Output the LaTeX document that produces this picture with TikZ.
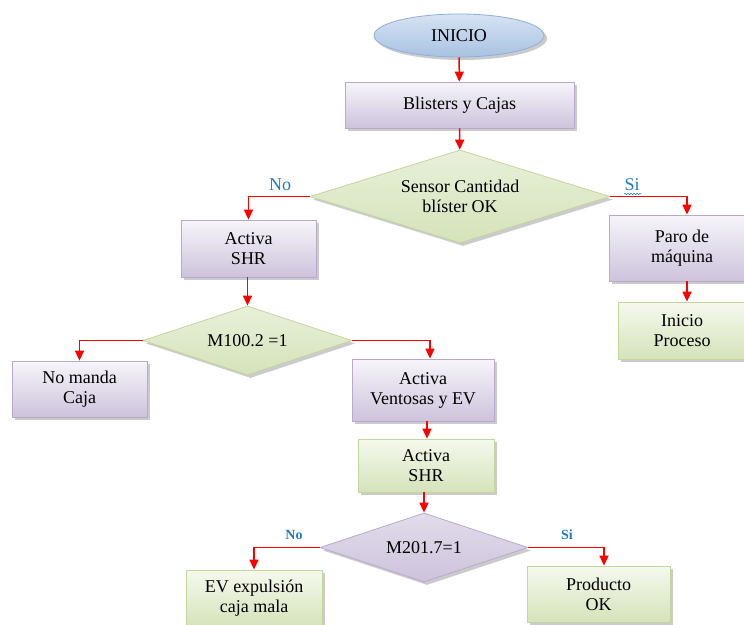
\documentclass[tikz,border=0pt]{standalone}
\usepackage{fontspec}
\setmainfont{Liberation Serif}
\usetikzlibrary{shapes.geometric,arrows.meta,shadows,decorations.pathmorphing}
\definecolor{purpT}{HTML}{F7F5FA}
\definecolor{purpF}{HTML}{CDC3DC}
\definecolor{purpB}{HTML}{B9A9CF}
\definecolor{grnT}{HTML}{F5F9EE}
\definecolor{grnF}{HTML}{D5E3BA}
\definecolor{grnB}{HTML}{C3D69B}
\definecolor{bluT}{HTML}{D6E3F3}
\definecolor{bluF}{HTML}{A8C2E2}
\definecolor{bluB}{HTML}{8FAFD6}
\definecolor{lblue}{HTML}{1F7CC1}
\tikzset{
  base/.style={font=\fontsize{18}{20}\selectfont, align=center, inner sep=0pt,
    drop shadow={shadow xshift=3pt, shadow yshift=-3pt, fill=black!40, opacity=0.5}},
  pbox/.style={base, rectangle, draw=purpB, line width=0.8pt, top color=purpT, bottom color=purpF},
  gbox/.style={base, rectangle, draw=grnB, line width=0.8pt, top color=grnT, bottom color=grnF},
  gdiam/.style={base, diamond, shape aspect=3.2, draw=grnB, line width=0.8pt, top color=grnT!60!grnF, bottom color=grnF},
  pdiam/.style={base, diamond, shape aspect=3.2, draw=purpB, line width=0.8pt, top color=purpT!50!purpF, bottom color=purpF},
  startnode/.style={base, ellipse, draw=bluB, line width=0.8pt, shading=axis, top color=bluT, middle color=bluT!40!white, bottom color=bluF},
  flow/.style={draw=red, line width=1.5pt, -{Triangle[length=10pt,width=9pt]}},
  lab/.style={text=lblue, font=\fontsize{18}{20}\selectfont, inner sep=0pt},
  blab/.style={text=lblue, font=\fontsize{14}{16}\selectfont\bfseries, inner sep=0pt}
}
\begin{document}
\begin{tikzpicture}[x=1pt,y=-1pt]
\useasboundingbox (0,0) rectangle (744,624);
\clip (0,0) rectangle (744,624);
\fill[white] (0,0) rectangle (744,624);

\node[startnode, minimum width=170pt, minimum height=43pt] (ini) at (459,35.5) {INICIO};
\node[pbox, minimum width=229pt, minimum height=46pt] (blis) at (459.5,105) {Blisters y Cajas};
\node[gdiam, minimum width=300pt, minimum height=93pt] (sens) at (460,196.5) {Sensor Cantidad\\blíster OK};
\node[pbox, minimum width=135pt, minimum height=57pt] (shr1) at (248.5,248.5) {Activa\\SHR};
\node[pbox, minimum width=146pt, minimum height=66pt] (paro) at (682,248) {Paro de\\máquina};
\node[gbox, minimum width=128pt, minimum height=57pt] (inip) at (682,330.5) {Inicio\\Proceso};
\node[gdiam, minimum width=209pt, minimum height=69pt] (m100) at (247.5,340.5) {M100.2 =1};
\node[pbox, minimum width=135pt, minimum height=56pt] (noma) at (79.5,389) {No manda\\Caja};
\node[pbox, minimum width=142pt, minimum height=62pt] (vent) at (423,390) {Activa\\Ventosas y EV};
\node[gbox, minimum width=136pt, minimum height=53pt] (shr2) at (426,465.5) {Activa\\SHR};
\node[pdiam, minimum width=208pt, minimum height=69pt] (m201) at (424,547.5) {M201.7=1};
\node[gbox, minimum width=136pt, minimum height=56pt] (evx) at (254,598) {EV expulsión\\caja mala};
\node[gbox, minimum width=143pt, minimum height=56pt] (prod) at (598.5,594) {Producto\\OK};

\draw[flow] (ini) -- (blis);
\draw[flow] (blis) -- (sens);
\draw[flow] (sens.west) -| (shr1.north);
\draw[flow] (sens.east) -| ([xshift=5pt]paro.north);
\draw[flow] ([xshift=5pt]paro.south) -- ([xshift=5pt]inip.north);
\draw[flow] (shr1.south -| m100.north) -- (m100.north);
\draw[flow] (m100.west) -| (noma.north);
\draw[flow] (m100.east) -| ([xshift=7pt]vent.north);
\draw[flow] ([xshift=4pt]vent.south) -- ([xshift=1pt]shr2.north);
\draw[flow] (shr2.south -| m201.north) -- (m201.north);
\draw[flow] (m201.west) -| (evx.north);
\draw[flow] (m201.east) -| ([xshift=5.5pt]prod.north);

\node[lab] (lno1) at (280,185) {No};
\node[lab] (lsi1) at (632,185) {Si};
\draw[lblue, line width=0.5pt, decorate, decoration={snake, amplitude=0.7pt, segment length=3pt}] (624,194) -- (641,194);
\node[blab] (lno2) at (294,535) {No};
\node[blab] (lsi2) at (567,535) {Si};
\end{tikzpicture}
\end{document}
